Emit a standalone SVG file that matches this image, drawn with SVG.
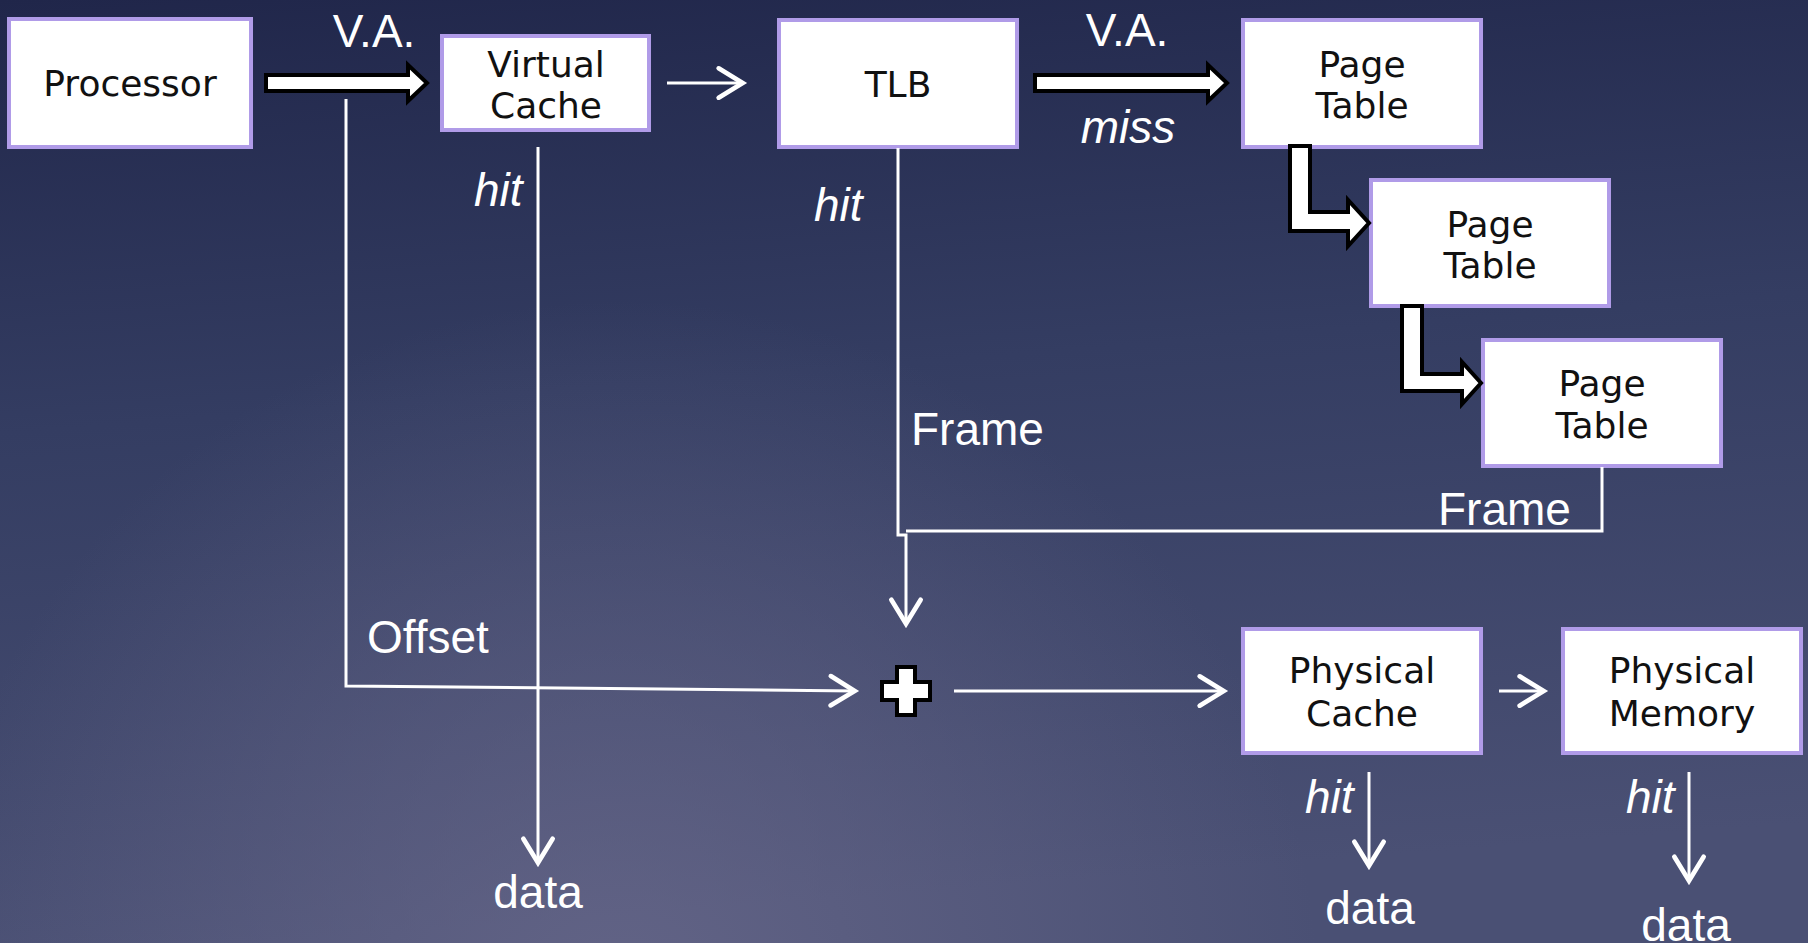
<svg xmlns="http://www.w3.org/2000/svg" width="1808" height="943" viewBox="0 0 1808 943">
<defs>
<linearGradient id="bg" x1="0" y1="0" x2="0.15" y2="1">
<stop offset="0" stop-color="#20264a"/>
<stop offset="0.45" stop-color="#343d62"/>
<stop offset="1" stop-color="#4a5074"/>
</linearGradient>
<radialGradient id="glow" cx="620" cy="1000" r="700" gradientUnits="userSpaceOnUse">
<stop offset="0" stop-color="#6a6a8c" stop-opacity="0.75"/>
<stop offset="1" stop-color="#6a6a8c" stop-opacity="0"/>
</radialGradient>
<marker id="arr" markerUnits="userSpaceOnUse" markerWidth="40" markerHeight="40" viewBox="-25 -15 30 30" refX="0" refY="0" orient="auto" overflow="visible">
<path d="M-19,-11 L-1,0 L-19,11" fill="none" stroke="#ffffff" stroke-width="3.5" stroke-linecap="round"/>
</marker>
<style>
.box{fill:#ffffff;stroke:#b09be8;stroke-width:4}
.nt{font-family:"DejaVu Sans","Liberation Sans",sans-serif;font-size:36px;fill:#111111;text-anchor:middle}
.lb{font-family:"Liberation Sans",Arial,sans-serif;font-size:46px;fill:#ffffff}
.it{font-style:italic}
.mid{text-anchor:middle}
.ln{fill:none;stroke:#ffffff;stroke-width:3}
.big{fill:#ffffff;stroke:#000000;stroke-width:4;stroke-linejoin:miter}
</style>
</defs>
<rect x="0" y="0" width="1808" height="943" fill="url(#bg)"/>
<rect x="0" y="0" width="1808" height="943" fill="url(#glow)"/>

<g id="processor">
<rect class="box" x="9" y="19" width="242" height="128"/>
<text class="nt" x="130" y="96">Processor</text>
</g>
<g id="virtual-cache">
<rect class="box" x="442" y="36" width="207" height="94"/>
<text class="nt" x="546" y="77">Virtual</text>
<text class="nt" x="546" y="118">Cache</text>
</g>
<g id="tlb">
<rect class="box" x="779" y="20" width="238" height="127"/>
<text class="nt" x="898" y="97">TLB</text>
</g>
<g id="page-table-1">
<rect class="box" x="1243" y="20" width="238" height="127"/>
<text class="nt" x="1362" y="77">Page</text>
<text class="nt" x="1362" y="118">Table</text>
</g>
<g id="page-table-2">
<rect class="box" x="1371" y="180" width="238" height="126"/>
<text class="nt" x="1490" y="237">Page</text>
<text class="nt" x="1490" y="278">Table</text>
</g>
<g id="page-table-3">
<rect class="box" x="1483" y="340" width="238" height="126"/>
<text class="nt" x="1602" y="396">Page</text>
<text class="nt" x="1602" y="438">Table</text>
</g>
<g id="physical-cache">
<rect class="box" x="1243" y="629" width="238" height="124"/>
<text class="nt" x="1362" y="683">Physical</text>
<text class="nt" x="1362" y="726">Cache</text>
</g>
<g id="physical-memory">
<rect class="box" x="1563" y="629" width="238" height="124"/>
<text class="nt" x="1682" y="683">Physical</text>
<text class="nt" x="1682" y="726">Memory</text>
</g>
<g id="adder">
<polygon class="big" points="897,667 915,667 915,682 930,682 930,700 915,700 915,715 897,715 897,700 882,700 882,682 897,682"/>
</g>

<g id="connectors">
<polygon class="big" points="266,75 408,75 408,65 427,83 408,101 408,91 266,91"/>
<polygon class="big" points="1035,75 1208,75 1208,65 1227,83 1208,101 1208,91 1035,91"/>
<polygon class="big" points="1290,146 1310,146 1310,212 1348,212 1348,200 1369,223 1348,246 1348,231 1290,231"/>
<polygon class="big" points="1402,306 1422,306 1422,374 1462,374 1462,362 1481,383 1462,404 1462,391 1402,391"/>
<path class="ln" d="M667,83 H744" marker-end="url(#arr)"/>
<path class="ln" d="M346,99 V686 L856,691" marker-end="url(#arr)"/>
<path class="ln" d="M538,147 V864" marker-end="url(#arr)"/>
<path class="ln" d="M898,148 V535 H906 V625" marker-end="url(#arr)"/>
<path class="ln" d="M906,531 H1602 V467"/>
<path class="ln" d="M954,691 H1225" marker-end="url(#arr)"/>
<path class="ln" d="M1499,691 H1545" marker-end="url(#arr)"/>
<path class="ln" d="M1369,772 V867" marker-end="url(#arr)"/>
<path class="ln" d="M1689,772 V882" marker-end="url(#arr)"/>
</g>

<g id="labels">
<text class="lb mid" x="374" y="47">V.A.</text>
<text class="lb mid" x="1127" y="46">V.A.</text>
<text class="lb it mid" x="1128" y="143">miss</text>
<text class="lb it" x="474" y="206">hit</text>
<text class="lb it" x="814" y="221">hit</text>
<text class="lb" x="911" y="445">Frame</text>
<text class="lb" x="1438" y="525">Frame</text>
<text class="lb" x="367" y="653">Offset</text>
<text class="lb mid" x="538" y="908">data</text>
<text class="lb it" x="1305" y="813">hit</text>
<text class="lb mid" x="1370" y="924">data</text>
<text class="lb it" x="1626" y="813">hit</text>
<text class="lb mid" x="1686" y="941">data</text>
</g>
</svg>
